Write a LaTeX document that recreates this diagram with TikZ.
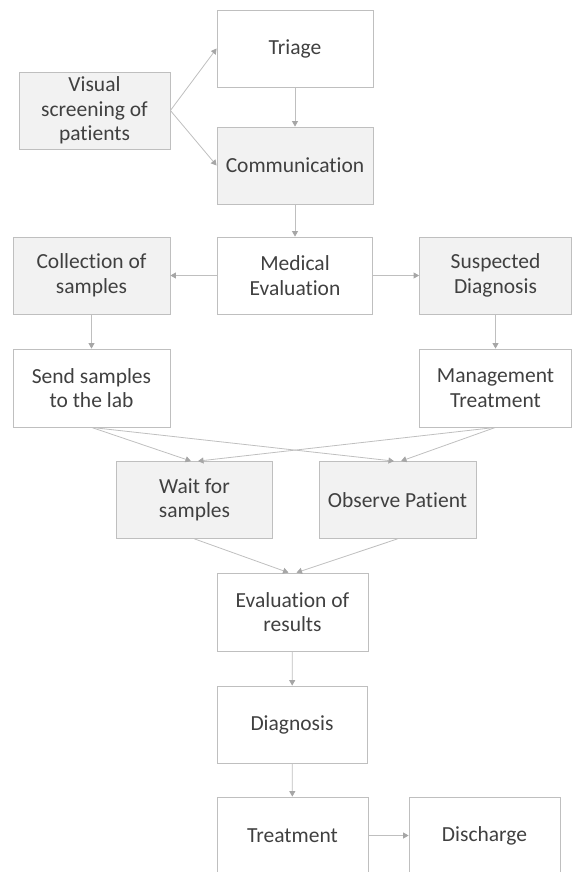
\documentclass[tikz,border=0pt]{standalone}
\usepackage{fontspec}
\setmainfont[RawFeature={-liga}]{Carlito}
\usepackage{xcolor}
\usetikzlibrary{arrows.meta}
\definecolor{boxline}{HTML}{BFBFBF}
\definecolor{boxfill}{HTML}{F2F2F2}
\definecolor{arrowgray}{HTML}{A6A6A6}
\definecolor{textgray}{HTML}{404040}

\begin{document}
\begin{tikzpicture}[x=1pt,y=-1pt,
		box/.style={draw=boxline, line width=0.8pt, minimum width=155pt, minimum height=77pt,
			inner sep=0pt, align=center, text=textgray, font=\fontsize{21.5}{24.5}\selectfont},
		shaded/.style={box, fill=boxfill},
		flow/.style={draw=boxline, line width=0.8pt, -{Triangle[width=6pt,length=5.5pt,color=arrowgray]}}]
				\useasboundingbox (0,0) rectangle (572,872);
				% first column of steps
				\node[box, minimum width=156pt] (triage) at (295,48.5) {Triage};
				\node[shaded, minimum width=151pt] (visual) at (94.5,110.5) {Visual\\screening of\\patients};
				\node[shaded, minimum width=156pt] (comm) at (295,165.5) {Communication};
				\node[box] (medical) at (295,275.5) {Medical\\Evaluation};
				\node[shaded, minimum width=157pt] (collect) at (91.5,275.5) {Collection of\\samples};
				\node[shaded, minimum width=152pt] (suspect) at (495.5,275.5) {Suspected\\Diagnosis};
				\node[box, minimum width=157pt, minimum height=78pt] (send) at (91.5,388) {Send samples\\to the lab};
				\node[box, minimum width=152pt, minimum height=78pt] (manage) at (495.5,388) {Management\\Treatment};
				\node[shaded, minimum width=156pt] (wait) at (194.5,500) {Wait for\\samples};
				\node[shaded, minimum width=157pt] (observe) at (397.5,500) {Observe Patient};
				\node[box, minimum width=151pt, minimum height=78pt] (evalres) at (292.5,612) {Evaluation of\\results};
				\node[box, minimum width=150pt] (diag) at (292,724.5) {Diagnosis};
				\node[box, minimum width=151pt] (treat) at (292.5,835.5) {Treatment};
				\node[box, minimum width=151pt] (discharge) at (484.5,835.5) {Discharge};
				% connectors
				\draw[flow] (visual.east) -- (triage.west);
				\draw[flow] (visual.east) -- (comm.west);
				\foreach \a/\b in {triage/comm, comm/medical, medical/collect, medical/suspect,
					collect/send, suspect/manage, evalres/diag, diag/treat, treat/discharge} {
					\draw[flow] (\a) -- (\b);
				}
				\foreach \t in {wait, observe} {
					\draw[flow] (send.south) -- ([xshift=-3.5pt]\t.north);
					\draw[flow] (manage.south) -- ([xshift=3.5pt]\t.north);
				}
				\draw[flow] (wait.south) -- ([xshift=-4pt]evalres.north);
				\draw[flow] (observe.south) -- ([xshift=4pt]evalres.north);
			\end{tikzpicture}
\end{document}
